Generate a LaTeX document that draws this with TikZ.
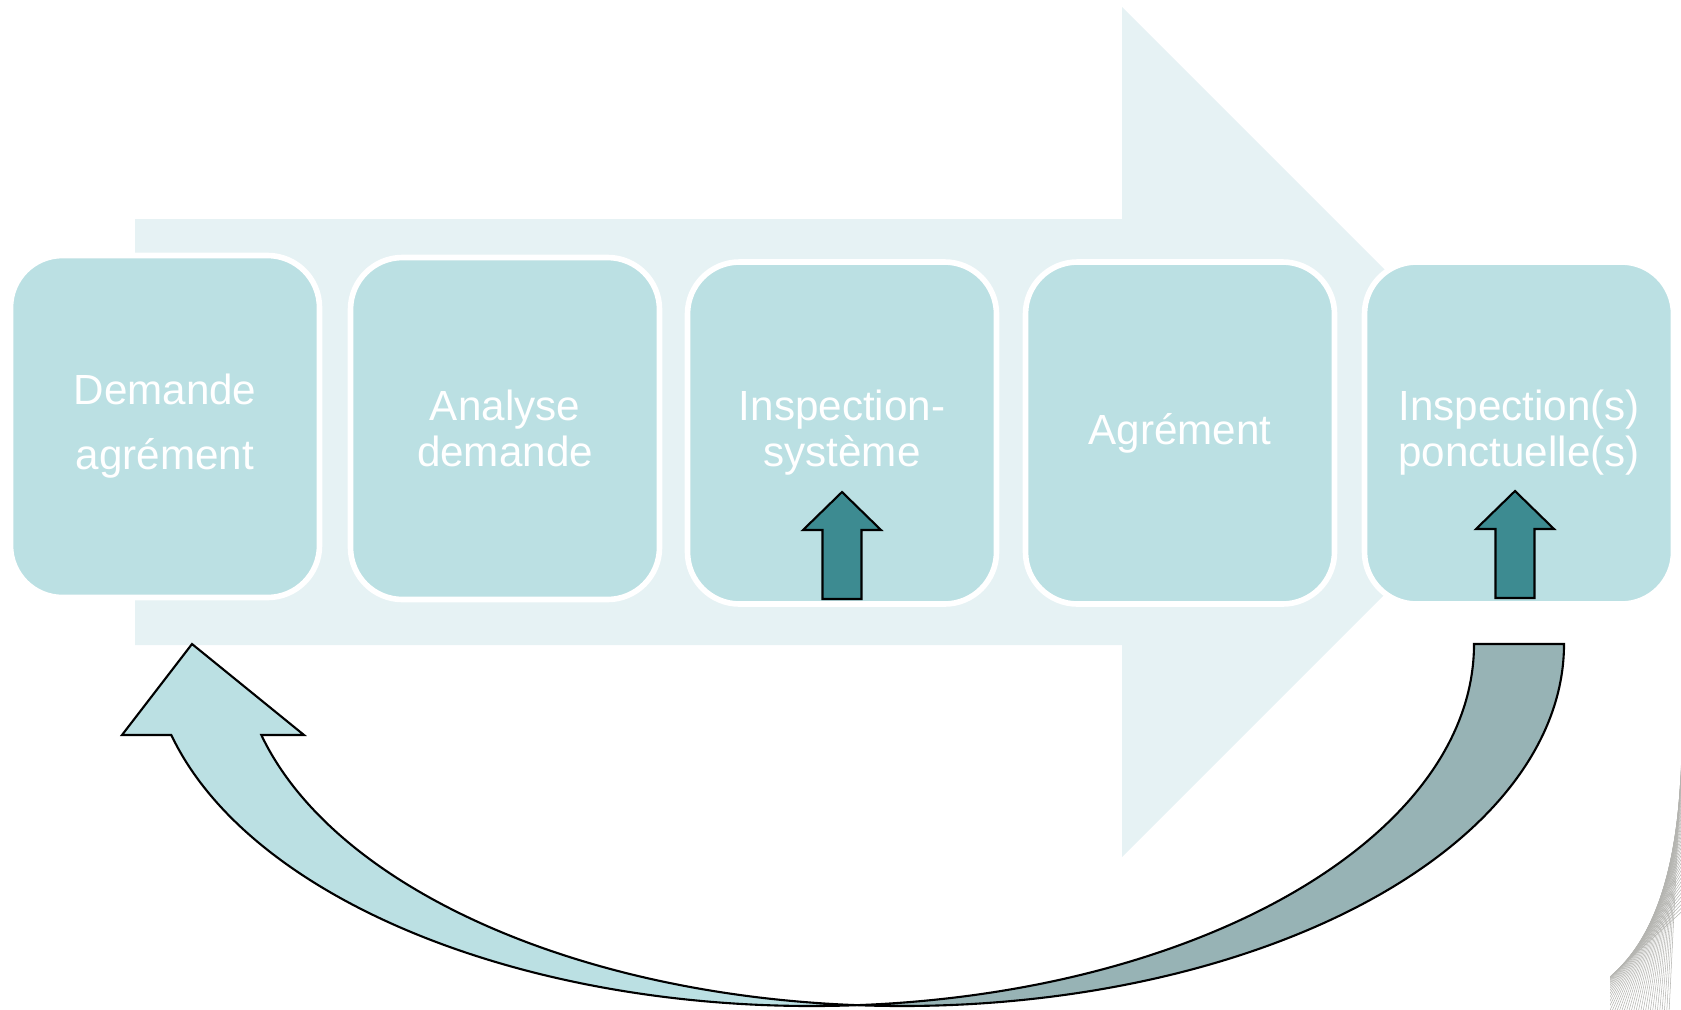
\documentclass[tikz,border=0pt]{standalone}
\usepackage{fontspec}
\setmainfont{Liberation Sans}
\usetikzlibrary{calc}
\usetikzlibrary{positioning}

\definecolor{flowbg}{HTML}{E6F2F4}
\definecolor{boxfill}{HTML}{BBE0E3}
\definecolor{arrowteal}{HTML}{3D8B91}
\definecolor{loopdark}{HTML}{97B3B5}
\definecolor{stringgray}{HTML}{B4B4B0}

\begin{document}
\begin{tikzpicture}[
  stepbox/.style = {draw=white, line width=1.6pt, fill=boxfill, rounded corners=0.52cm,
    minimum width=3.09cm, minimum height=3.42cm, inner sep=0pt, align=center,
    text=white, font=\fontsize{12}{13.1}\selectfont},
  uparrow/.style = {draw=black, line width=0.6pt, fill=arrowteal},
  loopfront/.style = {draw=black, line width=0.6pt, fill=boxfill},
  loopback/.style = {draw=black, line width=0.6pt, fill=loopdark},
  stringline/.style = {draw=stringgray, line width=0.15pt}
  ]
	\useasboundingbox (0,0) rectangle (16.81,10.09);

	% big flow arrow behind the steps
	\fill[flowbg] (1.35,7.90) -- (11.22,7.90) -- (11.22,10.02) -- (15.47,5.77)
		-- (11.22,1.52) -- (11.22,3.64) -- (1.35,3.64) -- cycle;

	\node[stepbox, font=\fontsize{12}{18.5}\selectfont] (demande) at (1.65,5.825) {Demande\\agrément};
	\node[stepbox] (analyse) at (5.05,5.805) {Analyse\\demande};
	\node[stepbox] (inspsys) at (8.42,5.76) {Inspection-\\système};
	\node[stepbox] (agrement) at (11.80,5.76) {Agrément};
	\node[stepbox] (insppct) at (15.19,5.76) {Inspection(s)\\ponctuelle(s)};

	\coordinate (sysfoot) at (8.42,4.10);
	\coordinate (pctfoot) at (15.15,4.11);

	\draw[uparrow, shift={(sysfoot)}] (-0.195,0) -- (-0.195,0.69) -- (-0.39,0.69) -- (0,1.07)
		-- (0.39,0.69) -- (0.195,0.69) -- (0.195,0) -- cycle;
	\draw[uparrow, shift={(pctfoot)}] (-0.195,0) -- (-0.195,0.69) -- (-0.39,0.69) -- (0,1.07)
		-- (0.39,0.69) -- (0.195,0.69) -- (0.195,0) -- cycle;

	% return loop
	\coordinate (ringA) at (8.12,3.65);
	\coordinate (ringB) at (9.02,3.65);

	\draw[loopback] ($(ringB)+(266.1:6.62 and 3.62)$)
		arc[start angle=266.1, end angle=360, x radius=6.62, y radius=3.62]
		-- ($(ringA)+(0:6.62 and 3.62)$)
		arc[start angle=360, end angle=273.9, x radius=6.62, y radius=3.62] -- cycle;
	\draw[loopfront] ($(ringA)+(194.56:6.62 and 3.62)$)
		arc[start angle=194.56, end angle=273.9, x radius=6.62, y radius=3.62]
		arc[start angle=266.1, end angle=194.56, x radius=6.62, y radius=3.62]
		-- (3.04,2.74) -- (1.92,3.65) -- (1.22,2.74) -- cycle;

	\begin{scope}
		\clip (16.10,0) rectangle (16.81,10.09);
		\coordinate (s0) at (15.51,0.05);
		\coordinate (s1) at (16.73,0.28);
		\coordinate (s2) at (16.81,2.40);
		\foreach \t in {0.30,0.317,...,0.98} {
			\coordinate (sa) at ($(s0)!\t!(s1)$);
			\coordinate (sb) at ($(s1)!\t!(s2)$);
			\draw[stringline] ($(sa)!-3!(sb)$) -- ($(sa)!4!(sb)$);
		}
	\end{scope}

\end{tikzpicture}
\end{document}
